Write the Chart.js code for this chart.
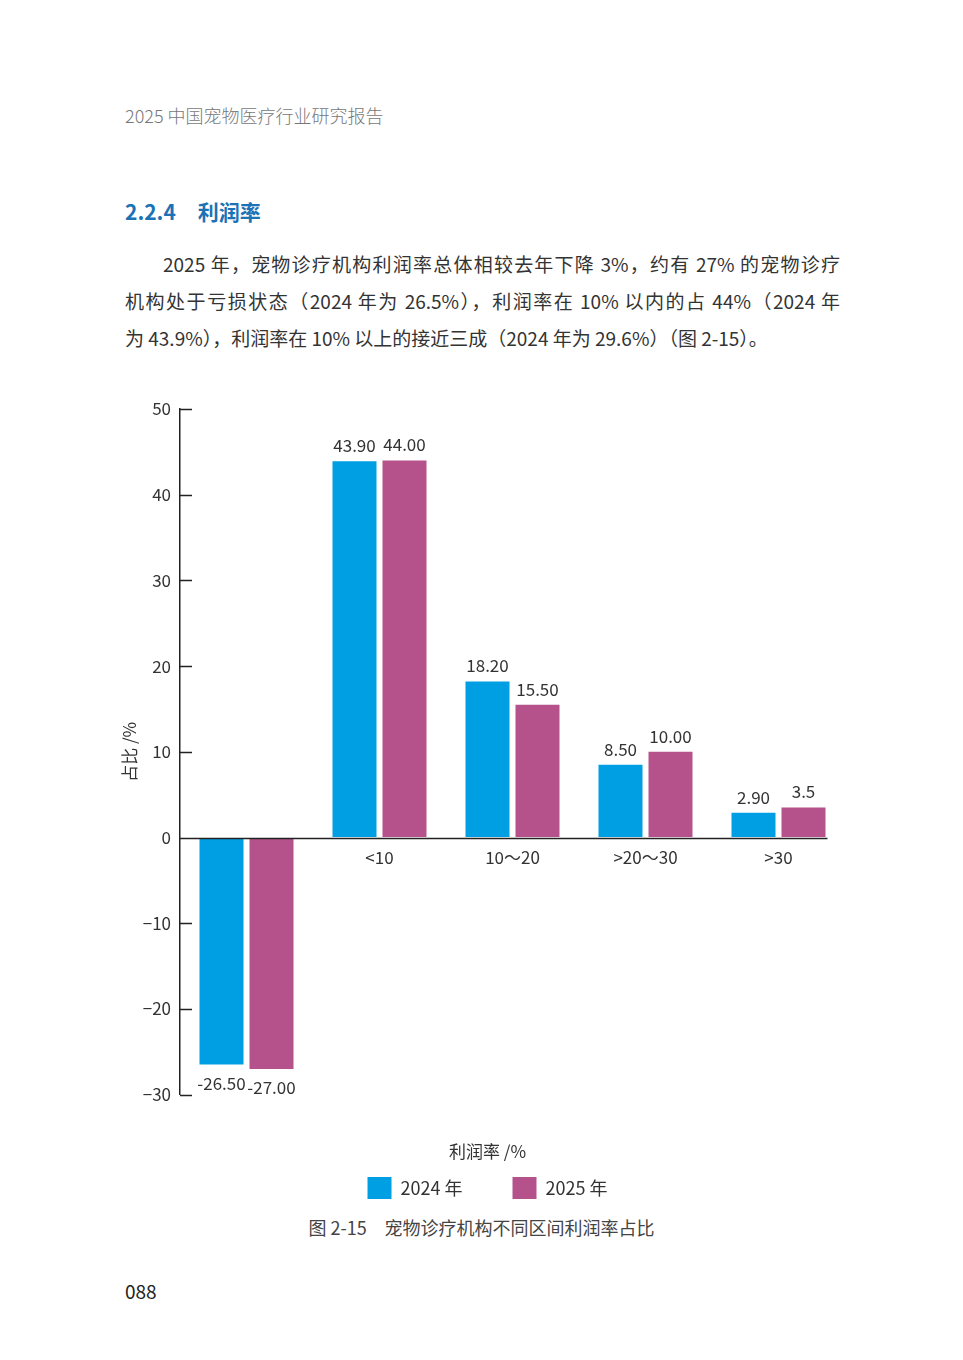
<!DOCTYPE html>
<html>
<head>
<meta charset="utf-8">
<script src="https://cdn.jsdelivr.net/npm/chart.js@4/dist/chart.umd.min.js"></script>
<style>
  body { margin: 0; background: #fff; font-family: "Noto Sans CJK SC", "Noto Sans", sans-serif; color: #333; }
  .page { position: relative; width: 963px; height: 1360px; }
  .header { position: absolute; left: 125px; top: 102px; font-size: 18px; color: #777; font-weight: 300; }
  .heading { position: absolute; left: 125px; top: 196px; font-size: 21px; color: #1b72b5; font-weight: 700; }
  .heading span { margin-left: 22px; }
  .para { position: absolute; left: 125px; top: 247px; width: 715px; font-size: 19px; color: #333; }
  .para div { height: 37px; line-height: 34px; text-align: justify; }
  .para .full { text-align-last: justify; }
  .para .indent { text-indent: 38px; }
  .chartBox { position: absolute; left: 100px; top: 380px; width: 784px; height: 829px; }
  .caption { position: absolute; left: 0; width: 963px; top: 1214px; text-align: center; font-size: 18px; color: #444; }
  .pageNo { position: absolute; left: 125px; top: 1277px; font-size: 19px; color: #222; }
</style>
</head>
<body>
<div class="page">
  <div class="header">2025 中国宠物医疗行业研究报告</div>
  <div class="heading">2.2.4<span>利润率</span></div>
  <div class="para">
    <div class="full indent">2025 年，宠物诊疗机构利润率总体相较去年下降 3%，约有 27% 的宠物诊疗</div>
    <div class="full">机构处于亏损状态（2024 年为 26.5%），利润率在 10% 以内的占 44%（2024 年</div>
    <div>为 43.9%），利润率在 10% 以上的接近三成（2024 年为 29.6%）（图 2-15）。</div>
  </div>
  <div class="chartBox"><canvas id="profit"></canvas></div>
  <div class="caption">图 2-15　宠物诊疗机构不同区间利润率占比</div>
  <div class="pageNo">088</div>
</div>
<script>
// first group (loss-making) has no label in the figure
const categories = ["", "<10", "10～20", ">20～30", ">30"];
const seriesNames = ["2024 年", "2025 年"];
const values2024 = [-26.5, 43.9, 18.2, 8.5, 2.9];
const values2025 = [-27.0, 44.0, 15.5, 10.0, 3.5];
const labels2024 = ["-26.50", "43.90", "18.20", "8.50", "2.90"];
const labels2025 = ["-27.00", "44.00", "15.50", "10.00", "3.5"];
const yTicks = [-30, -20, -10, 0, 10, 20, 30, 40, 50];

const blue = "#009fe3";
const purple = "#b5528b";
const textColor = "#333";
const fontFamily = "'Noto Sans CJK SC', 'Noto Sans', sans-serif";

// short ticks pointing into the plot, plus the zero line up to the last bar
const axisDecor = {
  id: "axisDecor",
  afterDraw(chart) {
    let { ctx, scales: { y }, chartArea } = chart;
    ctx.save();
    ctx.strokeStyle = "#222";
    ctx.lineWidth = 1.5;
    yTicks.forEach(t => {
      if (t === 0) return;
      let py = Math.round(y.getPixelForValue(t)) + 0.5;
      ctx.beginPath();
      ctx.moveTo(chartArea.left, py);
      ctx.lineTo(chartArea.left + 12, py);
      ctx.stroke();
    });
    let meta = chart.getDatasetMeta(1);
    let last = meta.data[meta.data.length - 1];
    let zy = Math.round(y.getPixelForValue(0)) + 0.5;
    ctx.beginPath();
    ctx.moveTo(chartArea.left, zy);
    ctx.lineTo(last.x + last.width / 2 + 2, zy);
    ctx.stroke();
    ctx.restore();
  }
};

const barLabels = {
  id: "barLabels",
  afterDatasetsDraw(chart) {
    let ctx = chart.ctx;
    let texts = [labels2024, labels2025];
    ctx.save();
    ctx.font = "17px " + fontFamily;
    ctx.fillStyle = textColor;
    ctx.textAlign = "center";
    chart.data.datasets.forEach((ds, i) => {
      chart.getDatasetMeta(i).data.forEach((bar, j) => {
        if (ds.data[j] >= 0) {
          ctx.textBaseline = "bottom";
          ctx.fillText(texts[i][j], bar.x, bar.y - 7);
        } else {
          ctx.textBaseline = "top";
          ctx.fillText(texts[i][j], bar.x, bar.y + 10);
        }
      });
    });
    ctx.restore();
  }
};

new Chart(document.getElementById("profit"), {
  type: "bar",
  data: {
    labels: categories,
    datasets: [
      { label: seriesNames[0], data: values2024, backgroundColor: blue, borderWidth: 0 },
      { label: seriesNames[1], data: values2025, backgroundColor: purple, borderWidth: 0 }
    ]
  },
  options: {
    responsive: true,
    maintainAspectRatio: false,
    animation: false,
    categoryPercentage: 0.752,
    barPercentage: 0.88,
    layout: { padding: { top: 29, right: 39, bottom: 0, left: 30 } },
    scales: {
      x: {
        position: { y: 0 },
        grid: { display: false, drawTicks: false },
        border: { display: false },
        ticks: { color: textColor, padding: 10, font: { size: 17, family: fontFamily } }
      },
      y: {
        min: -30,
        max: 50,
        afterFit: s => { s.width = 50; },
        afterBuildTicks: s => { s.ticks = yTicks.map(v => ({ value: v })); },
        grid: { drawOnChartArea: false, drawTicks: false },
        border: { display: true, color: "#222", width: 1.5 },
        ticks: {
          color: textColor,
          padding: 9,
          font: { size: 17, family: fontFamily },
          callback: v => v < 0 ? "\u2212" + Math.abs(v) : String(v)
        },
        title: {
          display: true,
          text: "占比 /%",
          color: textColor,
          font: { size: 17, family: fontFamily },
          padding: { top: -11, bottom: 0 }
        }
      }
    },
    plugins: {
      title: {
        display: true,
        text: "利润率 /%",
        position: "bottom",
        weight: 500,
        color: textColor,
        font: { size: 17, weight: "normal", family: fontFamily },
        padding: { top: 47, bottom: -35 }
      },
      legend: {
        position: "bottom",
        weight: 1000,
        labels: {
          color: textColor,
          boxWidth: 24,
          boxHeight: 22,
          padding: 50,
          font: { size: 18, family: fontFamily }
        }
      },
      tooltip: { enabled: false }
    }
  },
  plugins: [axisDecor, barLabels]
});
</script>
</body>
</html>
